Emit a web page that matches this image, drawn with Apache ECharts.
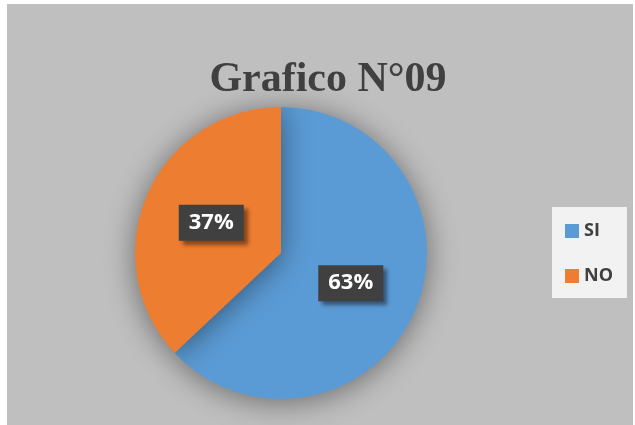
<!DOCTYPE html>
<html>
<head>
<meta charset="utf-8">
<script src="https://cdn.jsdelivr.net/npm/echarts@6/dist/echarts.min.js"></script>
<style>
  html, body { margin: 0; padding: 0; background: #ffffff; }
  #chart {
    position: absolute;
    left: 7px;
    top: 4px;
    width: 626px;
    height: 421px;
    background: #bfbfbf;
  }
</style>
</head>
<body>
<div id="chart"></div>
<script>
// chart data
const categories = ['SI', 'NO']
const values = [63, 37]
const colors = ['#5b9bd5', '#ed7d31']

const chart = echarts.init(document.getElementById('chart'))

const option = {
  backgroundColor: 'transparent',
  animation: false,
  title: {
    text: 'Grafico N°09',
    left: 316,
    textAlign: 'center',
    top: 50,
    textStyle: {
      fontFamily: 'Liberation Serif',
      fontWeight: 'bold',
      fontSize: 42,
      color: '#404040'
    }
  },
  legend: {
    orient: 'vertical',
    left: 545,
    top: 203,
    itemWidth: 14,
    itemHeight: 14,
    itemGap: 27,
    icon: 'rect',
    padding: [15, 14, 13, 13],
    backgroundColor: '#f2f2f2',
    data: categories,
    textStyle: {
      fontFamily: 'Open Sans',
      fontWeight: 'bold',
      fontSize: 18,
      color: '#404040'
    }
  },
  series: [
    {
      type: 'pie',
      center: [274, 249],
      radius: 146,
      startAngle: 90,
      clockwise: true,
      data: categories.map((name, i) => ({
        name: name,
        value: values[i],
        itemStyle: { color: colors[i] }
      })),
      itemStyle: {
        shadowBlur: 30,
        shadowColor: 'rgba(0, 0, 0, 0.45)',
        shadowOffsetY: 3
      },
      label: {
        show: true,
        position: 'inside',
        formatter: p => p.value + '%',
        fontFamily: 'Open Sans',
        fontWeight: 'bold',
        fontSize: 22,
        color: '#ffffff',
        backgroundColor: '#404040',
        padding: [7, 10],
        shadowColor: 'rgba(0, 0, 0, 0.45)',
        shadowBlur: 4,
        shadowOffsetX: 4,
        shadowOffsetY: 4
      },
      labelLine: { show: false }
    }
  ]
}

chart.setOption(option)
</script>
</body>
</html>
